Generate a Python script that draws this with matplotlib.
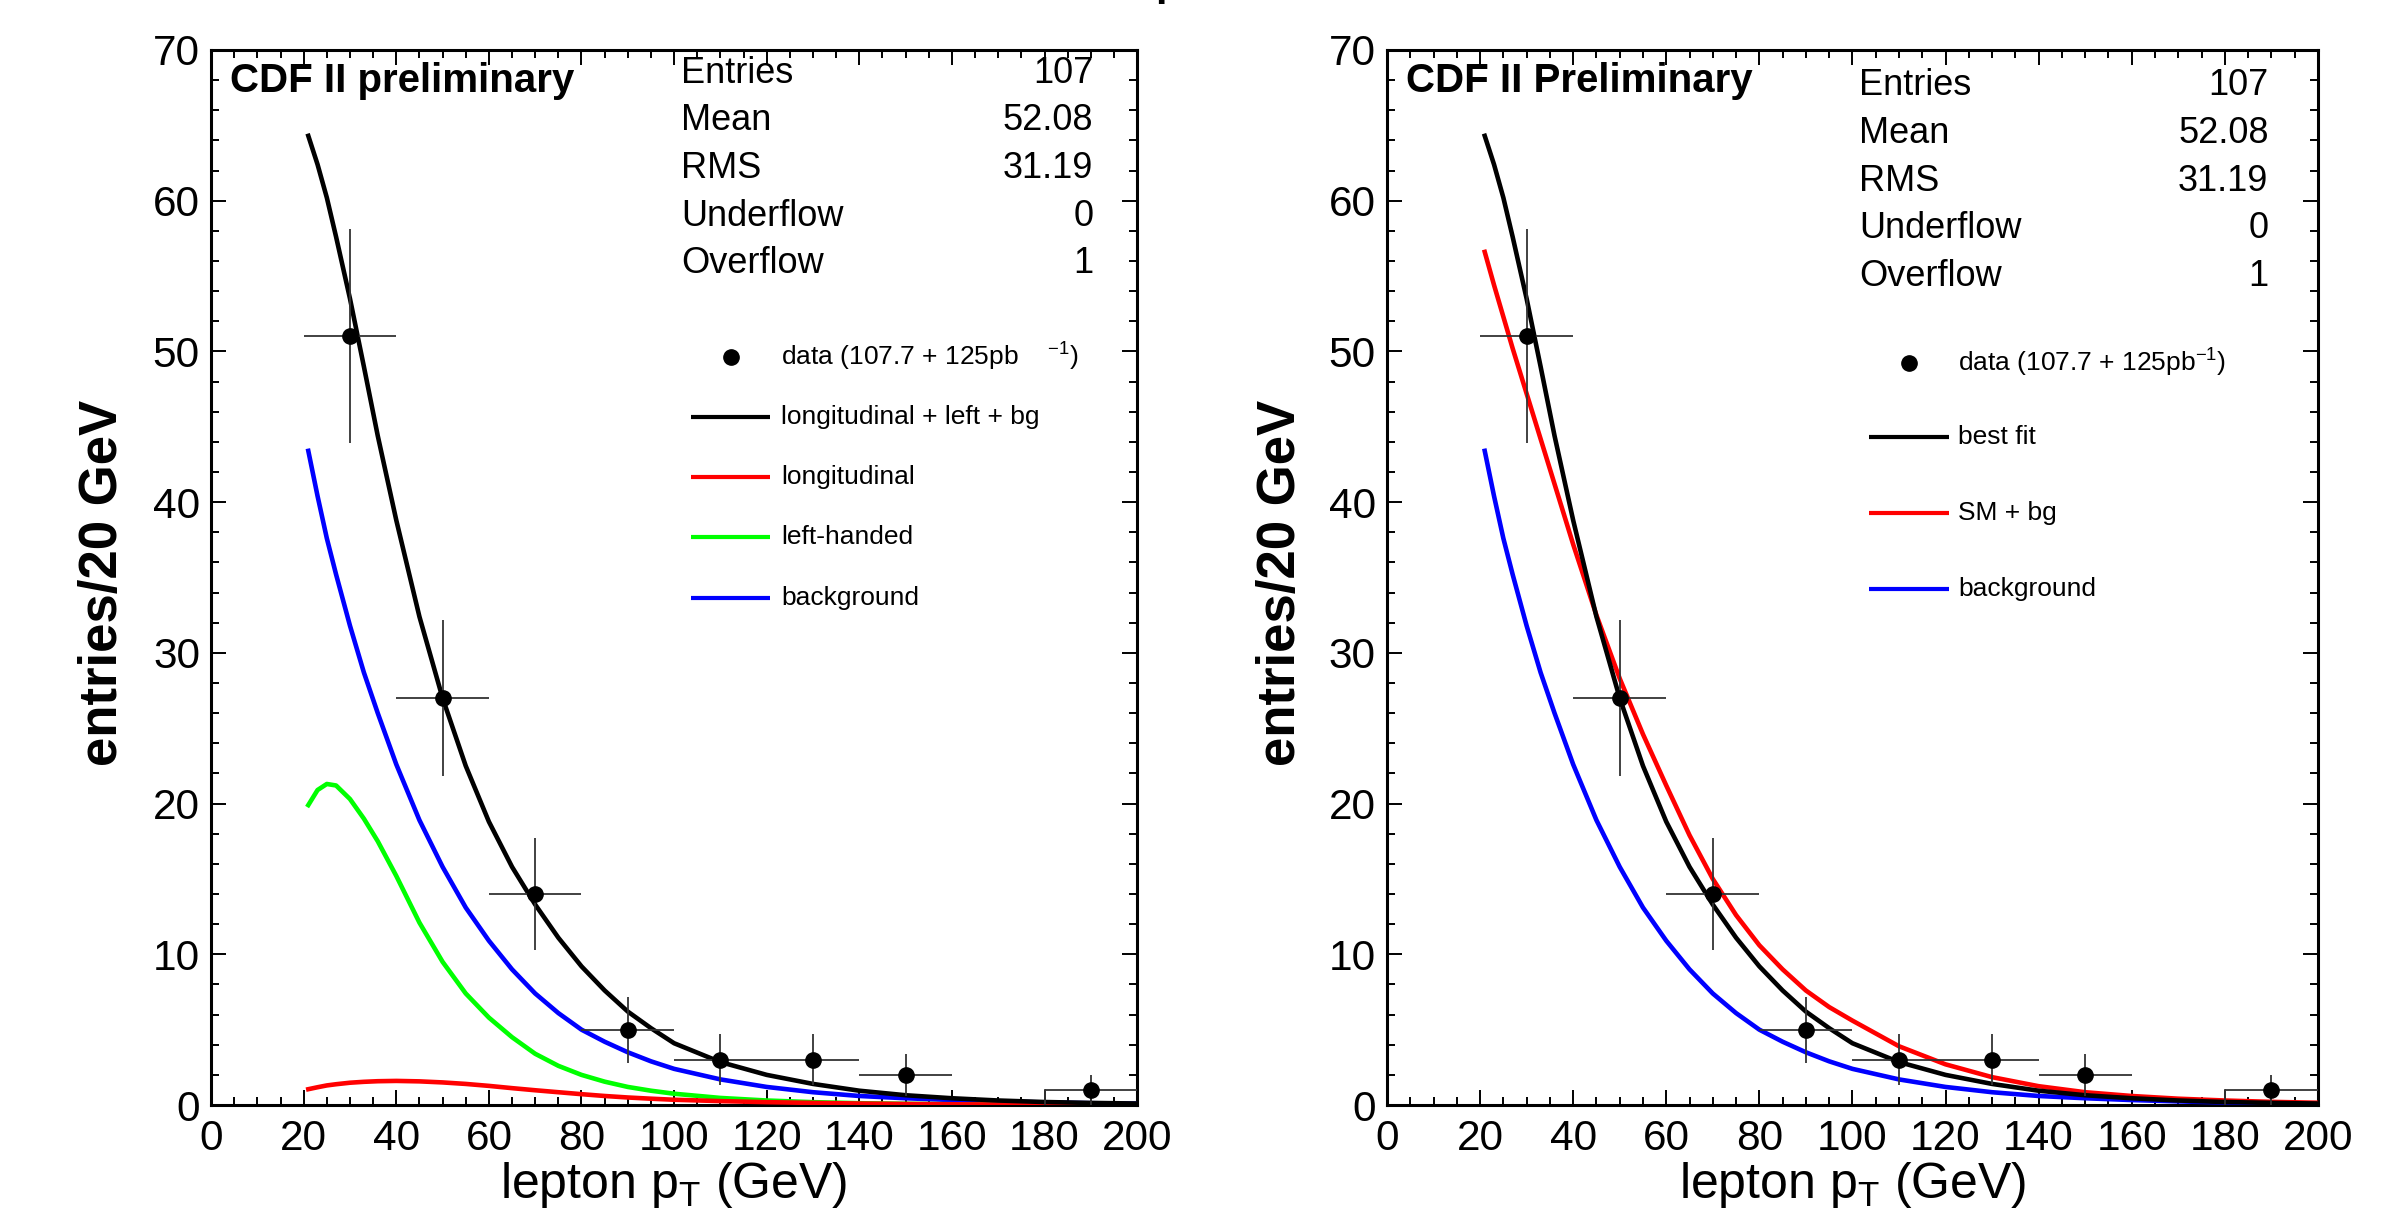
"""
Lepton pT distribution, CDF II W helicity fit - two panels side by side.
"""
import numpy as np
import matplotlib
matplotlib.use("Agg")
import matplotlib.pyplot as plt
from matplotlib.ticker import MultipleLocator

plt.rcParams["font.family"] = ["Liberation Sans", "DejaVu Sans"]
plt.rcParams["mathtext.fontset"] = "custom"
plt.rcParams["mathtext.rm"] = "Liberation Sans"
plt.rcParams["mathtext.it"] = "Liberation Sans:italic"
plt.rcParams["mathtext.bf"] = "Liberation Sans:bold"

# ─────────────────────────────────────────────
# Data
# ─────────────────────────────────────────────
bin_centers = [30, 50, 70, 90, 110, 130, 150, 190]
bin_counts  = [51, 27, 14, 5, 3, 3, 2, 1]
count_errs  = [7.1, 5.2, 3.7, 2.2, 1.7, 1.7, 1.4, 1.0]
bin_halfwidth = 10

fit_pt = [21, 23, 25, 27, 30, 33, 36, 40, 45, 50, 55, 60, 65, 70, 75, 80,
          85, 90, 95, 100, 110, 120, 130, 140, 150, 160, 170, 180, 190, 200]

total_fit = [64.3, 62.4, 60.2, 57.6, 53.5, 49.0, 44.4, 38.8, 32.4, 27.0,
             22.5, 18.8, 15.8, 13.3, 11.1, 9.2, 7.6, 6.2, 5.1, 4.1,
             2.85, 2.0, 1.4, 0.95, 0.65, 0.45, 0.3, 0.2, 0.14, 0.1]

background = [43.4, 40.4, 37.6, 35.2, 31.8, 28.7, 26.0, 22.6, 18.9, 15.8,
              13.1, 10.9, 9.0, 7.4, 6.1, 5.0, 4.2, 3.5, 2.9, 2.4,
              1.7, 1.2, 0.85, 0.6, 0.45, 0.33, 0.24, 0.17, 0.12, 0.09]

left_handed = [19.9, 20.9, 21.3, 21.2, 20.3, 19.0, 17.5, 15.2, 12.1, 9.5,
               7.4, 5.8, 4.5, 3.4, 2.6, 2.0, 1.55, 1.2, 0.95, 0.75,
               0.47, 0.3, 0.19, 0.12, 0.08, 0.05, 0.03, 0.02, 0.01, 0.01]

longitudinal = [1.05, 1.18, 1.3, 1.38, 1.48, 1.54, 1.58, 1.6, 1.57, 1.5,
                1.4, 1.27, 1.12, 0.98, 0.85, 0.72, 0.6, 0.5, 0.42, 0.35,
                0.26, 0.19, 0.14, 0.1, 0.07, 0.05, 0.035, 0.025, 0.02, 0.015]

sm_plus_bg = [56.6, 54.4, 52.3, 50.2, 47.2, 44.2, 41.2, 37.2, 32.5, 28.3,
              24.6, 21.2, 17.9, 15.0, 12.6, 10.6, 9.0, 7.6, 6.5, 5.6,
              3.9, 2.7, 1.85, 1.25, 0.85, 0.6, 0.42, 0.3, 0.21, 0.15]

stat_names  = ["Entries", "Mean", "RMS", "Underflow", "Overflow"]
stat_values = ["107", "52.08", "31.19", "0", "1"]

LINE_W = 3.3


def draw_frame(ax):
    ax.set_xlim(0, 200)
    ax.set_ylim(0, 70)
    ax.xaxis.set_major_locator(MultipleLocator(20))
    ax.xaxis.set_minor_locator(MultipleLocator(5))
    ax.yaxis.set_major_locator(MultipleLocator(10))
    ax.yaxis.set_minor_locator(MultipleLocator(2))
    ax.tick_params(which="both", direction="in", top=True, right=True,
                   width=1.4, labelsize=30.5)
    ax.tick_params(which="major", length=11)
    ax.tick_params(which="minor", length=6)
    ax.tick_params(axis="x", pad=10)
    ax.tick_params(axis="y", pad=8)
    for sp in ax.spines.values():
        sp.set_linewidth(2.2)
    ax.set_xlabel(r"lepton p$_{\mathrm{T}}$ (GeV)", fontsize=36)
    ax.set_ylabel("entries/20 GeV", fontsize=38, fontweight="bold")


def draw_data(ax):
    ax.errorbar(bin_centers, bin_counts, xerr=bin_halfwidth, yerr=count_errs,
                fmt="none", ecolor="#333333", elinewidth=1.3, capsize=0, zorder=5)
    ax.plot(bin_centers, bin_counts, "o", color="black", ms=11, zorder=6)
    # histogram edge of the last filled bin
    ax.plot([bin_centers[-1] - bin_halfwidth] * 2, [0, bin_counts[-1]],
            color="#333333", lw=1.3, zorder=5)


def draw_stats(ax, title, y0, dy, xl, xr):
    ax.text(0.02, 0.971, title, transform=ax.transAxes, fontsize=29,
            fontweight="bold", va="center", ha="left")
    for i, (n, v) in enumerate(zip(stat_names, stat_values)):
        y = y0 - i * dy
        ax.text(xl, y, n, transform=ax.transAxes, fontsize=26, va="center", ha="left")
        ax.text(xr, y, v, transform=ax.transAxes, fontsize=26, va="center", ha="right")


def draw_legend(ax, entries, rows, x_mark, x_line, x_text):
    for (label, color), y in zip(entries, rows):
        if color is None:
            ax.plot([x_mark], [y], "o", color="black", ms=11, transform=ax.transAxes,
                    clip_on=False)
        else:
            ax.plot(x_line, [y, y], color=color, lw=3.0, transform=ax.transAxes,
                    solid_capstyle="butt")
        ax.text(x_text, y, label, transform=ax.transAxes, fontsize=19,
                va="center", ha="left")


fig = plt.figure(figsize=(23.93, 12.24), dpi=100)
ax1 = fig.add_axes([0.0882, 0.0972, 0.387, 0.862])
ax2 = fig.add_axes([0.5796, 0.0972, 0.389, 0.862])

# ─────────────────────────────────────────────
# Left panel
# ─────────────────────────────────────────────
draw_frame(ax1)
ax1.plot(fit_pt, background, color="#0000ff", lw=LINE_W, zorder=3)
ax1.plot(fit_pt, left_handed, color="#00ff00", lw=LINE_W, zorder=3)
ax1.plot(fit_pt, longitudinal, color="#ff0000", lw=LINE_W, zorder=3)
ax1.plot(fit_pt, total_fit, color="black", lw=LINE_W, zorder=4)
draw_data(ax1)
draw_stats(ax1, "CDF II preliminary", 0.978, 0.0452, 0.5076, 0.9525)
draw_legend(ax1,
            [("data (107.7 + 125pb    $^{-1}$)", None),
             ("longitudinal + left + bg", "black"),
             ("longitudinal", "#ff0000"),
             ("left-handed", "#00ff00"),
             ("background", "#0000ff")],
            [0.709, 0.652, 0.595, 0.538, 0.481],
            0.5616, [0.518, 0.6036], 0.6156)
ax1.yaxis.set_label_coords(-0.090, 0.495)
ax1.xaxis.set_label_coords(0.5, -0.052)

# ─────────────────────────────────────────────
# Right panel
# ─────────────────────────────────────────────
draw_frame(ax2)
ax2.plot(fit_pt, background, color="#0000ff", lw=LINE_W, zorder=3)
ax2.plot(fit_pt, sm_plus_bg, color="#ff0000", lw=LINE_W, zorder=3)
ax2.plot(fit_pt, total_fit, color="black", lw=LINE_W, zorder=4)
draw_data(ax2)
draw_stats(ax2, "CDF II Preliminary", 0.966, 0.0452, 0.507, 0.947)
draw_legend(ax2,
            [("data (107.7 + 125pb$^{-1}$)", None),
             ("best fit", "black"),
             ("SM + bg", "#ff0000"),
             ("background", "#0000ff")],
            [0.703, 0.633, 0.561, 0.489],
            0.5607, [0.5177, 0.6036], 0.6133)
ax2.yaxis.set_label_coords(-0.087, 0.495)
ax2.xaxis.set_label_coords(0.5, -0.052)

# clipped title fragment at the very top of the canvas
fig.text(0.4826, 1.004, "p", fontsize=30, fontweight="bold", va="baseline", ha="left")

fig.savefig("out.png", dpi=100)
